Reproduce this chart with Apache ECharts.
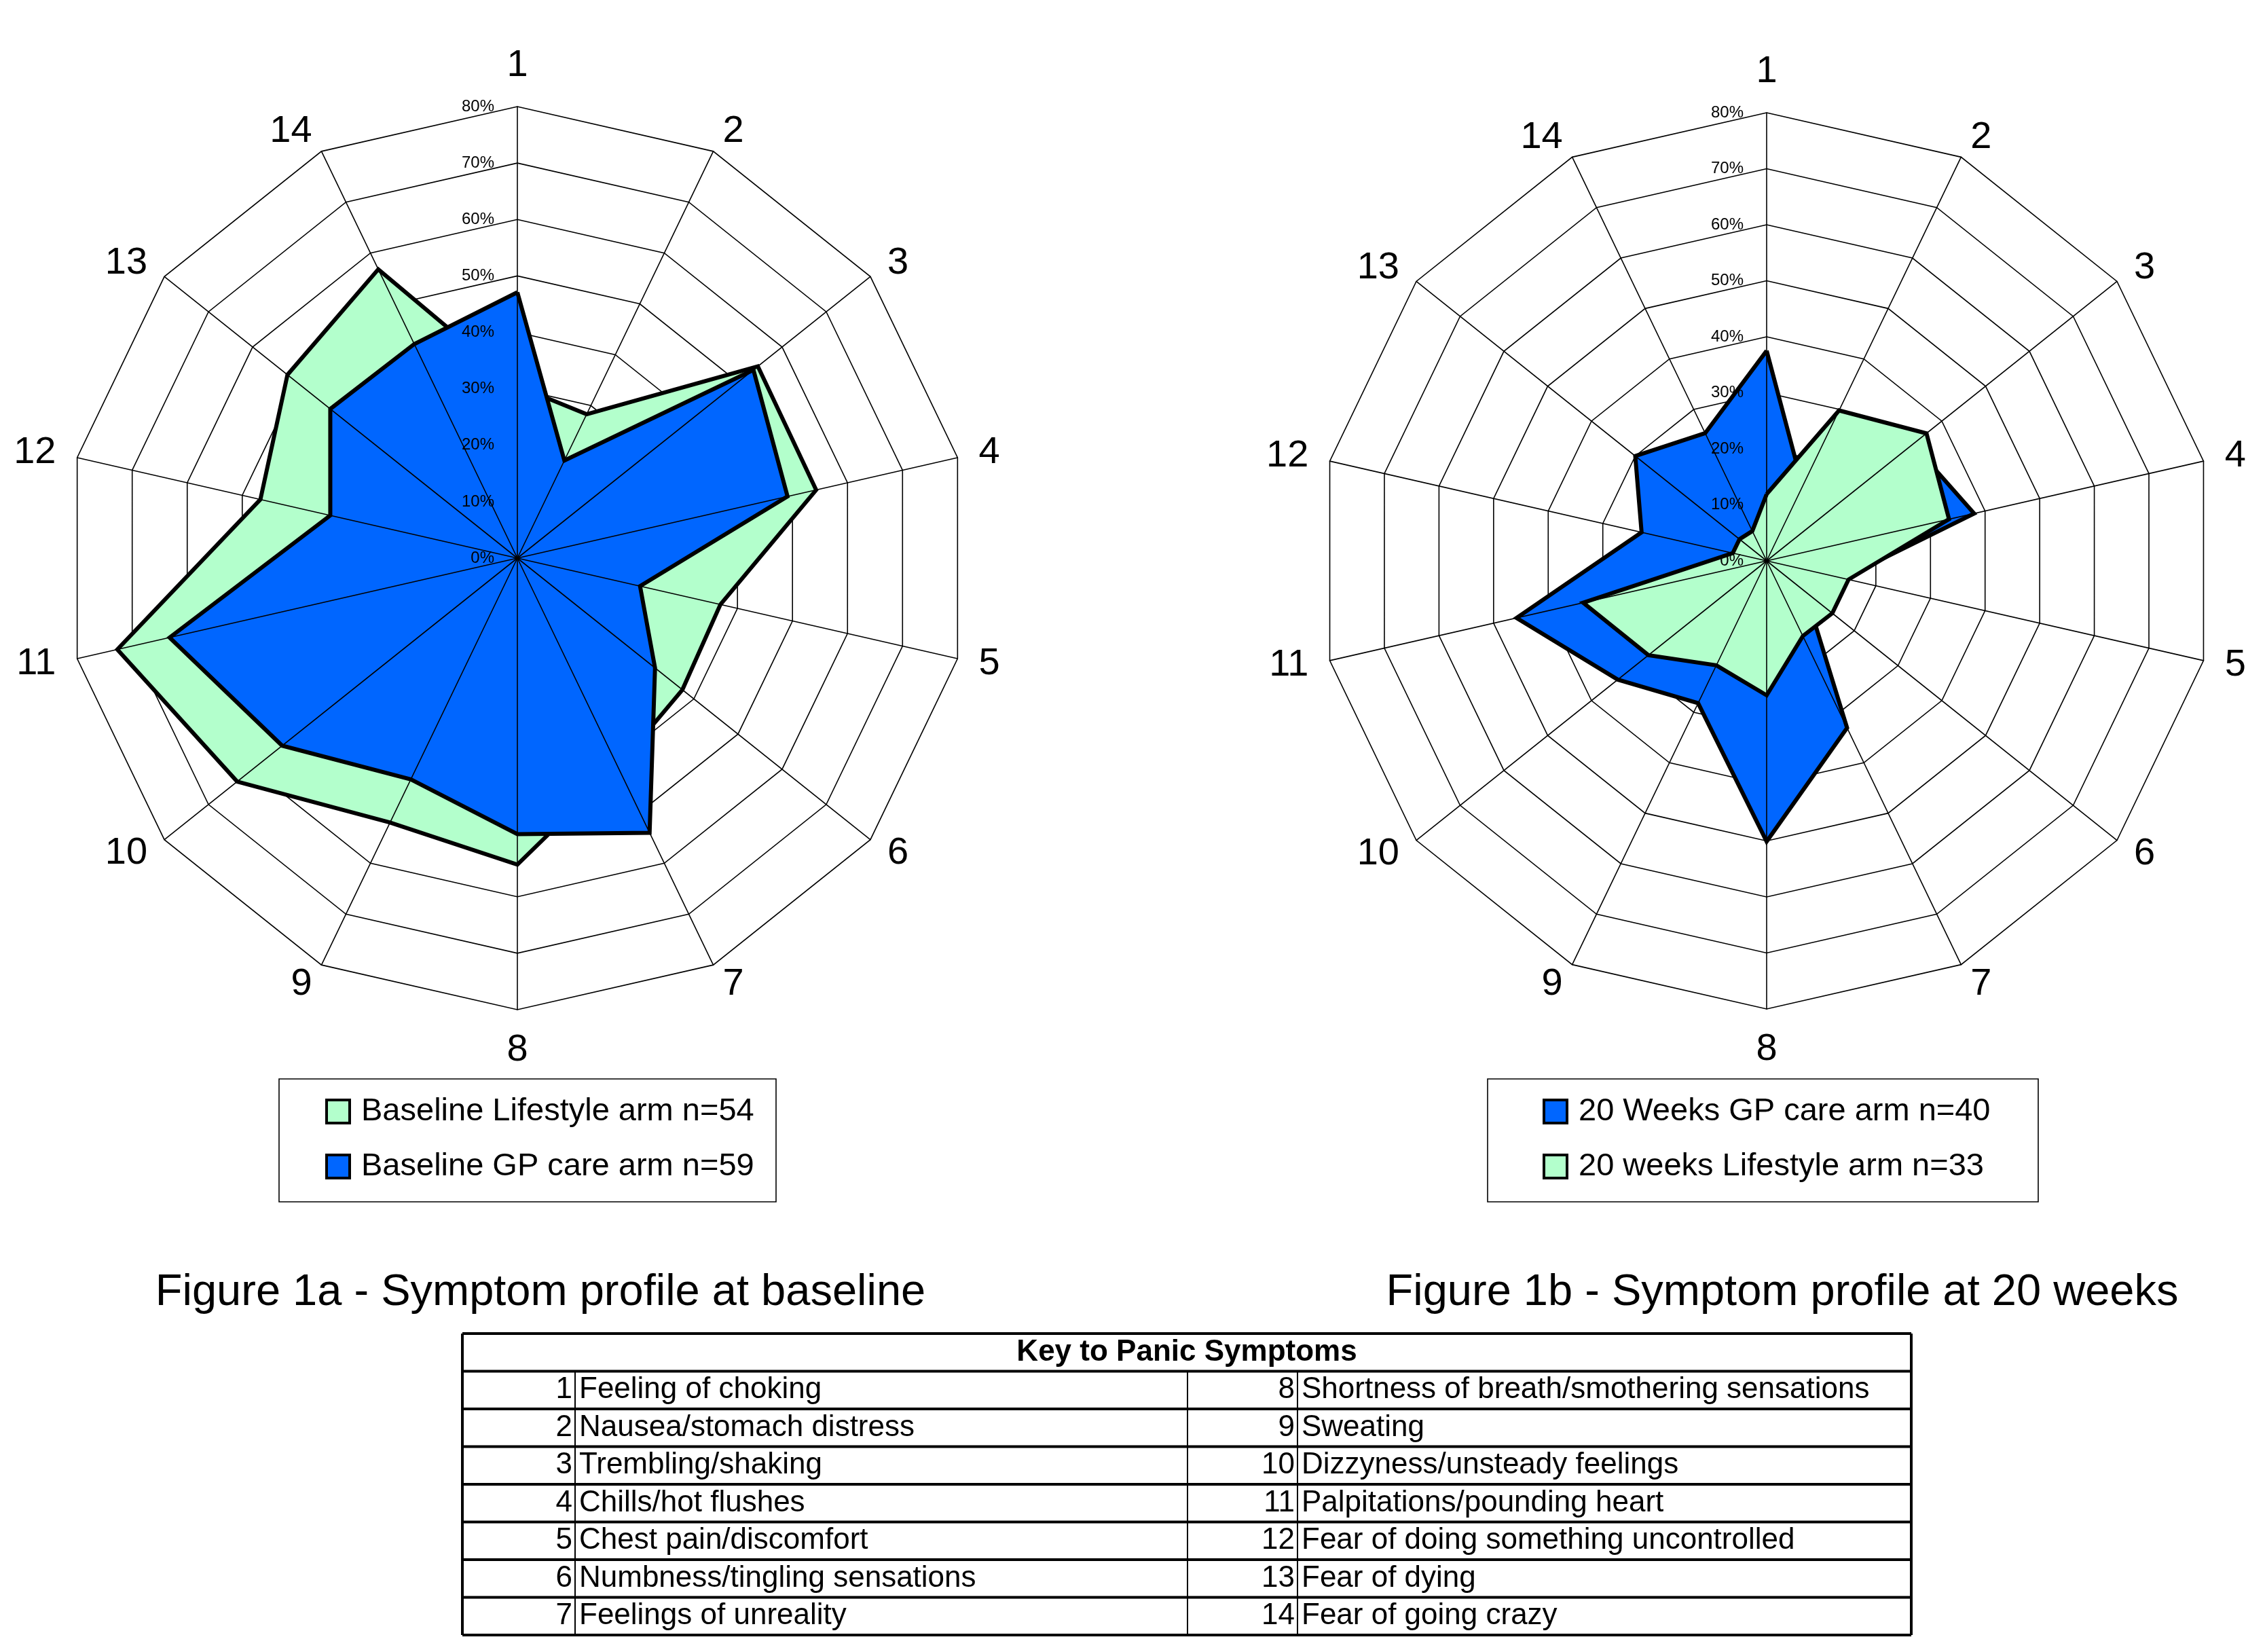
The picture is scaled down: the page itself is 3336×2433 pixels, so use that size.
<!DOCTYPE html>
<html>
<head>
<meta charset="utf-8">
<script src="https://cdn.jsdelivr.net/npm/echarts@6/dist/echarts.min.js"></script>
<style>
html,body{margin:0;padding:0;background:#fff;}
#chart{width:3336px;height:2433px;}
</style>
</head>
<body>
<div id="chart"></div>
<script>
// ---- data ----
const axisNames = ['1','2','3','4','5','6','7','8','9','10','11','12','13','14'];
const tickMax = 80;
// Figure 1a - baseline
const baselineLifestyle = [30.5, 28.3, 54.5, 54.3, 36.9, 37.4, 41, 54.3, 52, 63.5, 72.7, 46.7, 52.1, 56.8];
const baselineGP        = [47.1, 19.2, 53.5, 49.1, 22.3, 31.2, 54, 48.9, 43.5, 53.3, 63.2, 34, 42.4, 42.1];
// Figure 1b - 20 weeks
const weeks20GP         = [37.5, 14.8, 33.4, 38, 14, 8.8, 33.1, 50.1, 28.2, 34, 45.8, 22.9, 30, 25.3];
const weeks20Lifestyle  = [11.9, 29.8, 36.5, 33.4, 15, 15, 14.9, 24, 20.7, 27, 33.6, 6.2, 6.2, 5.9];
const seriesNames = {
  bl: 'Baseline Lifestyle arm n=54',
  bg: 'Baseline GP care arm n=59',
  wg: '20 Weeks GP care arm n=40',
  wl: '20 weeks Lifestyle arm n=33'
};
const titles = ['Figure 1a - Symptom profile at baseline', 'Figure 1b - Symptom profile at 20 weeks'];
const tableHeader = 'Key to Panic Symptoms';
const symptomNumbers = [1,2,3,4,5,6,7,8,9,10,11,12,13,14];
const symptomNames = [
  'Feeling of choking','Nausea/stomach distress','Trembling/shaking','Chills/hot flushes',
  'Chest pain/discomfort','Numbness/tingling sensations','Feelings of unreality',
  'Shortness of breath/smothering sensations','Sweating','Dizzyness/unsteady feelings',
  'Palpitations/pounding heart','Fear of doing something uncontrolled','Fear of dying','Fear of going crazy'
];

// ---- styling ----
const FONT = "'Liberation Sans', Arial, sans-serif";
const GREEN = '#B3FFCC';
const BLUE = '#0066FF';

// ECharts radar runs counter-clockwise; reorder so symptoms run clockwise from the top
const order = [0].concat(axisNames.map((_, i) => i).slice(1).reverse());
const reorder = arr => order.map(i => arr[i]);

// layer 'rings': polygon rings + axis names, under the series
// layer 'spokes': spokes + tick labels, over the series
function makeRadar(center, radius, layer) {
  const top = layer === 'spokes';
  return {
    z: top ? 5 : 0,
    center: center,
    radius: radius,
    startAngle: 90,
    shape: 'polygon',
    splitNumber: 8,
    indicator: order.map((i, k) => {
      const ind = { name: axisNames[i], min: 0, max: tickMax };
      if (k === 0 && top) {
        ind.axisLabel = {
          show: true, color: '#000', fontSize: 24, fontFamily: FONT, margin: 34,
          formatter: v => v + '%'
        };
      }
      return ind;
    }),
    axisName: { show: !top, color: '#000', fontSize: 56, fontFamily: FONT },
    nameGap: 32,
    splitLine: { show: !top, lineStyle: { color: '#000', width: 1.6 } },
    splitArea: { show: false },
    axisLine: { show: top, lineStyle: { color: '#000', width: 1.6 } },
    axisTick: { show: false },
    axisLabel: { show: false }
  };
}

// each dataset = filled area series, then its black outline series on top
function makeSeries(name, radarIndex, values, color) {
  return [
    {
      type: 'radar', name: name, radarIndex: radarIndex, z: 2,
      symbol: 'none', silent: true,
      itemStyle: { color: color },
      lineStyle: { width: 0, opacity: 0 },
      areaStyle: { color: color, opacity: 1 },
      data: [{ name: name, value: reorder(values) }]
    },
    {
      type: 'radar', name: name, radarIndex: radarIndex, z: 2,
      symbol: 'none', silent: true,
      itemStyle: { color: color },
      lineStyle: { color: '#000', width: 6, join: 'miter' },
      data: [{ name: name, value: reorder(values) }]
    }
  ];
}

// ---- table graphics ----
const T = { left: 681, right: 2815, top: 1964, rowH: 55.5, numL: 847, mid: 1749, numR: 1911 };
const nRows = 8;
const graphics = [];
for (let r = 0; r <= nRows; r++) {
  const y = T.top + r * T.rowH;
  graphics.push({ type: 'line', shape: { x1: T.left, y1: y, x2: T.right, y2: y }, style: { stroke: '#000', lineWidth: 4 } });
}
const bottom = T.top + nRows * T.rowH;
[T.left, T.right].forEach(x => graphics.push({ type: 'line', shape: { x1: x, y1: T.top, x2: x, y2: bottom }, style: { stroke: '#000', lineWidth: 4 } }));
[T.numL, T.mid, T.numR].forEach(x => graphics.push({ type: 'line', shape: { x1: x, y1: T.top + T.rowH, x2: x, y2: bottom }, style: { stroke: '#000', lineWidth: 2 } }));
graphics.push({ type: 'text', x: (T.left + T.right) / 2, y: T.top + T.rowH / 2,
  style: { text: tableHeader, font: 'bold 44px ' + FONT, fill: '#000', textAlign: 'center', textVerticalAlign: 'middle' } });
for (let k = 0; k < 7; k++) {
  const y = T.top + (k + 1) * T.rowH + T.rowH / 2;
  const pairs = [[k, T.numL], [k + 7, T.numR]];
  pairs.forEach(([idx, xDiv]) => {
    graphics.push({ type: 'text', x: xDiv - 4, y: y,
      style: { text: String(symptomNumbers[idx]), font: '44px ' + FONT, fill: '#000', textAlign: 'right', textVerticalAlign: 'middle' } });
    graphics.push({ type: 'text', x: xDiv + 6, y: y,
      style: { text: symptomNames[idx], font: '44px ' + FONT, fill: '#000', textAlign: 'left', textVerticalAlign: 'middle' } });
  });
}
// titles
graphics.push({ type: 'text', x: 796, y: 1904, style: { text: titles[0], font: '65px ' + FONT, fill: '#000', textAlign: 'center', textVerticalAlign: 'middle' } });
graphics.push({ type: 'text', x: 2625, y: 1904, style: { text: titles[1], font: '65px ' + FONT, fill: '#000', textAlign: 'center', textVerticalAlign: 'middle' } });
// legend boxes
graphics.push({ type: 'rect', shape: { x: 411, y: 1589, width: 732, height: 181 }, style: { fill: 'none', stroke: '#000', lineWidth: 1.6 } });
graphics.push({ type: 'rect', shape: { x: 2191, y: 1589, width: 811, height: 181 }, style: { fill: 'none', stroke: '#000', lineWidth: 1.6 } });

function makeLegend(left, names) {
  return {
    left: left, top: 1607, orient: 'vertical', selectedMode: false,
    icon: 'rect', itemWidth: 34, itemHeight: 34, itemGap: 21,
    itemStyle: { borderColor: '#000', borderWidth: 4 },
    padding: 0,
    textStyle: { color: '#000', fontSize: 47, lineHeight: 60, fontFamily: FONT, padding: [0, 0, 0, 12] },
    data: names
  };
}

const chart = echarts.init(document.getElementById('chart'), null, { renderer: 'canvas' });
chart.setOption({
  backgroundColor: '#fff',
  animation: false,
  radar: [
    makeRadar([762, 822], 665, 'rings'),
    makeRadar([762, 822], 665, 'spokes'),
    makeRadar([2602, 826], 660, 'rings'),
    makeRadar([2602, 826], 660, 'spokes')
  ],
  legend: [
    makeLegend(479, [seriesNames.bl, seriesNames.bg]),
    makeLegend(2272, [seriesNames.wg, seriesNames.wl])
  ],
  series: [].concat(
    makeSeries(seriesNames.bl, 0, baselineLifestyle, GREEN),
    makeSeries(seriesNames.bg, 0, baselineGP, BLUE),
    makeSeries(seriesNames.wg, 2, weeks20GP, BLUE),
    makeSeries(seriesNames.wl, 2, weeks20Lifestyle, GREEN)
  ),
  graphic: graphics
});
</script>
</body>
</html>
